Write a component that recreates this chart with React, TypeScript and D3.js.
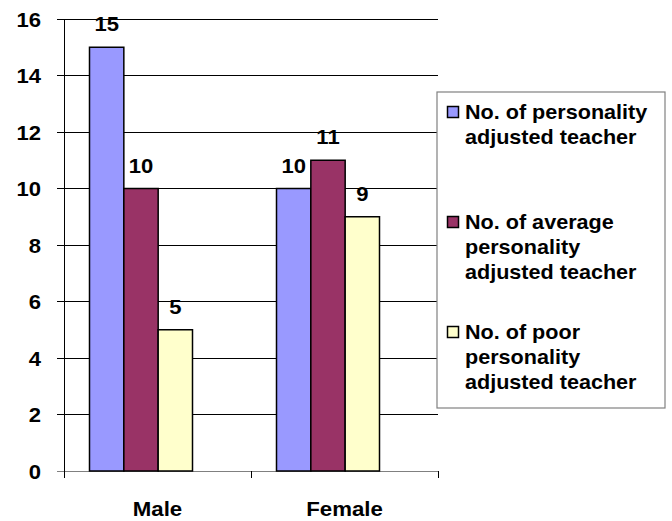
import React from "react";
import * as d3 from "d3";

const categories = ["Male", "Female"];
const seriesNames = [
  ["No. of personality", "adjusted teacher"],
  ["No. of average", "personality", "adjusted teacher"],
  ["No. of poor", "personality", "adjusted teacher"],
];
const personalityAdjusted = [15, 10];
const averageAdjusted = [10, 11];
const poorAdjusted = [5, 9];
const yTicks = [0, 2, 4, 6, 8, 10, 12, 14, 16];

const colors = ["#9999FF", "#993366", "#FFFFCC"];
const FONT = "'Liberation Sans', Arial, sans-serif";

function T({ x, y, anchor = "start", size = 21, sx = 1.08, children }: any) {
  return (
    <text
      transform={`translate(${x},${y}) scale(${sx},1)`}
      textAnchor={anchor}
      fontFamily={FONT}
      fontWeight="bold"
      fontSize={size}
      fill="#000"
    >
      {children}
    </text>
  );
}

export default function App() {
  const W = 672, H = 521;
  const left = 64, right = 438, top = 19, bottom = 471;
  const series = [personalityAdjusted, averageAdjusted, poorAdjusted];

  const y = d3.scaleLinear().domain([0, 16]).range([bottom, top]);
  const x = d3.scaleBand<string>().domain(categories).range([left, right]).padding(0);
  const inner = d3.scaleBand<number>().domain([0, 1, 2]).range([25.5, 128.5]).padding(0);

  const legendX = 437, legendY = 92, legendW = 228, legendH = 316;
  const entryStart = [112, 222, 332];

  return (
    <svg width={W} height={H} style={{ position: "absolute", left: 0, top: 0 }}>
      <rect x={0} y={0} width={W} height={H} fill="#fff" />
      {yTicks.map((t) => (
        <line key={"g" + t} x1={left - 7} x2={right} y1={y(t)} y2={y(t)} stroke={t === 0 ? "#808080" : "#000"} strokeWidth={1} shapeRendering="crispEdges" />
      ))}
      <line x1={left} x2={left} y1={top} y2={bottom + 7} stroke="#000" strokeWidth={1} shapeRendering="crispEdges" />
      {[left, ...categories.map((c) => (x(c) as number) + x.bandwidth())].map((px, i) => (
        <line key={"ct" + i} x1={px} x2={px} y1={bottom} y2={bottom + 7} stroke="#000" strokeWidth={1} shapeRendering="crispEdges" />
      ))}
      {yTicks.map((t) => (
        <T key={"yl" + t} x={41} y={y(t) + 7.5} anchor="end" sx={1.05}>{t}</T>
      ))}
      {categories.map((c, ci) =>
        series.map((s, si) => {
          const bx = (x(c) as number) + (inner(si) as number);
          const by = y(s[ci]);
          return (
            <g key={c + si}>
              <rect x={bx} y={by} width={inner.bandwidth()} height={bottom - by} fill={colors[si]} stroke="#000" strokeWidth={1.5} />
              <T x={bx + inner.bandwidth() / 2} y={by - 16} anchor="middle" sx={1.05}>{s[ci]}</T>
            </g>
          );
        })
      )}
      {categories.map((c) => (
        <T key={"cl" + c} x={(x(c) as number) + x.bandwidth() / 2} y={516} anchor="middle" sx={1.06}>{c}</T>
      ))}
      <rect x={legendX} y={legendY} width={legendW} height={legendH} fill="#fff" stroke="#808080" strokeWidth={1.2} />
      {seriesNames.map((lines, si) => (
        <g key={"lg" + si}>
          <rect x={447.5} y={entryStart[si] - 5.5} width={11} height={11} fill={colors[si]} stroke="#000" strokeWidth={1.5} />
          {lines.map((ln, li) => (
            <T key={li} x={465} y={entryStart[si] + 25 * li + 7} size={20} sx={1.08}>{ln}</T>
          ))}
        </g>
      ))}
    </svg>
  );
}
